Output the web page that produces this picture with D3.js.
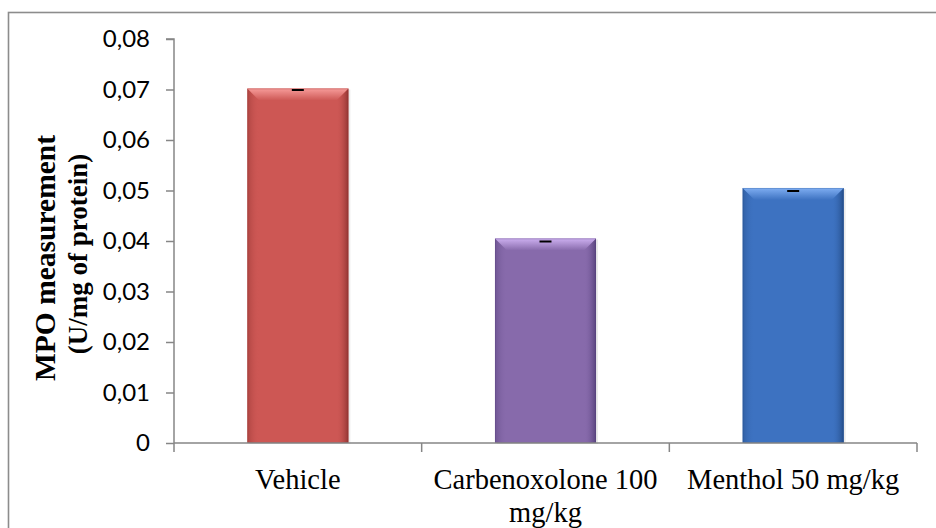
<!DOCTYPE html>
<html>
<head>
<meta charset="utf-8">
<script src="https://cdn.jsdelivr.net/npm/d3@7"></script>
<style>
  html, body { margin: 0; padding: 0; background: #fff; }
  svg { display: block; }
</style>
</head>
<body>
<svg id="chart" width="936" height="528"></svg>
<script>
// ---- data ----
const categories = ["Vehicle", "Carbenoxolone 100 mg/kg", "Menthol 50 mg/kg"];
const categoryLines = [["Vehicle"], ["Carbenoxolone 100", "mg/kg"], ["Menthol 50 mg/kg"]];
const values = [0.0702, 0.0405, 0.0505];
const errors = [0.0003, 0.0006, 0.0006];
const yTicks = [0, 0.01, 0.02, 0.03, 0.04, 0.05, 0.06, 0.07, 0.08];
const yTickLabels = ["0", "0,01", "0,02", "0,03", "0,04", "0,05", "0,06", "0,07", "0,08"];
const yTitleLines = ["MPO measurement", "(U/mg of protein)"];
const barColors = [
  { main: "#CD5754", light: "#F79C9A", dark: "#8E3230" },
  { main: "#876AAB", light: "#CDB0F0", dark: "#55407A" },
  { main: "#3D72C1", light: "#7FAEF2", dark: "#244C86" }
];

// ---- layout ----
const svg = d3.select("#chart");
const plotLeft = 174, plotRight = 917, plotTop = 39, plotBottom = 443;

svg.append("rect")
  .attr("x", 8.5).attr("y", 12.5).attr("width", 940).attr("height", 600)
  .attr("fill", "none").attr("stroke", "#8c8c8c").attr("stroke-width", 1.6);

const x = d3.scaleBand().domain(categories).range([plotLeft, plotRight])
  .paddingInner(0.592).paddingOuter(0.296);
const y = d3.scaleLinear().domain([0, 0.08]).range([plotBottom, plotTop]);

const defs = svg.append("defs");
barColors.forEach((c, i) => {
  const gTop = defs.append("linearGradient").attr("id", "gt" + i)
    .attr("x1", 0).attr("y1", 0).attr("x2", 0).attr("y2", 1);
  gTop.append("stop").attr("offset", 0).attr("stop-color", c.light);
  gTop.append("stop").attr("offset", 1).attr("stop-color", c.main);
  const gL = defs.append("linearGradient").attr("id", "gl" + i)
    .attr("x1", 0).attr("y1", 0).attr("x2", 1).attr("y2", 0);
  gL.append("stop").attr("offset", 0).attr("stop-color", c.dark).attr("stop-opacity", 0.5);
  gL.append("stop").attr("offset", 1).attr("stop-color", c.main).attr("stop-opacity", 0);
  const gR = defs.append("linearGradient").attr("id", "gr" + i)
    .attr("x1", 0).attr("y1", 0).attr("x2", 1).attr("y2", 0);
  gR.append("stop").attr("offset", 0).attr("stop-color", c.main).attr("stop-opacity", 0);
  gR.append("stop").attr("offset", 1).attr("stop-color", c.dark).attr("stop-opacity", 0.95);
});

// ---- bars ----
const bev = 12;
const bars = svg.append("g").selectAll("g").data(values).join("g");
bars.each(function(v, i) {
  const g = d3.select(this);
  const x0 = x(categories[i]), w = x.bandwidth();
  const y0 = y(v), y1 = y(0);
  const c = barColors[i];
  g.append("rect").attr("x", x0 + 2).attr("y", y0 + 1).attr("width", w).attr("height", y1 - y0)
    .attr("fill", "#000").attr("opacity", 0.08);
  g.append("rect").attr("x", x0).attr("y", y0).attr("width", w).attr("height", y1 - y0)
    .attr("fill", c.main);
  g.append("path").attr("d", `M${x0},${y0} L${x0 + bev},${y0 + bev} L${x0 + bev},${y1} L${x0},${y1} Z`)
    .attr("fill", `url(#gl${i})`);
  g.append("path").attr("d", `M${x0 + w},${y0} L${x0 + w - bev},${y0 + bev} L${x0 + w - bev},${y1} L${x0 + w},${y1} Z`)
    .attr("fill", `url(#gr${i})`);
  g.append("path").attr("d", `M${x0},${y0} L${x0 + w},${y0} L${x0 + w - bev},${y0 + bev} L${x0 + bev},${y0 + bev} Z`)
    .attr("fill", `url(#gt${i})`);
  g.append("rect").attr("x", x0 + 0.5).attr("y", y0 + 0.5).attr("width", w - 1).attr("height", y1 - y0 - 1)
    .attr("fill", "none").attr("stroke", c.dark).attr("stroke-opacity", 0.25);
  const cx = x0 + w / 2;
  g.append("line").attr("x1", cx - 6).attr("x2", cx + 6)
    .attr("y1", y(v - errors[i])).attr("y2", y(v - errors[i]))
    .attr("stroke", "#000").attr("stroke-width", 2);
});

// ---- axes ----
const axisColor = "#868686";
const yAxis = svg.append("g").attr("transform", `translate(${plotLeft},0)`)
  .call(d3.axisLeft(y).tickValues(yTicks).tickSize(8).tickPadding(16)
    .tickFormat((d, i) => yTickLabels[i]));
yAxis.select(".domain").attr("stroke", axisColor).attr("stroke-width", 1.5).attr("d", `M-8,${plotTop}H0V${plotBottom}`);
yAxis.selectAll(".tick line").attr("stroke", axisColor).attr("stroke-width", 1.5);
yAxis.selectAll(".tick text").attr("font-family", "Lato, 'Open Sans', sans-serif")
  .attr("font-size", 24).attr("fill", "#000");

const xAxis = svg.append("g").attr("transform", `translate(0,${plotBottom})`)
  .call(d3.axisBottom(x).tickSize(0).tickFormat(""));
xAxis.select(".domain").attr("stroke", axisColor).attr("stroke-width", 1.5).attr("d", `M${plotLeft},0H${plotRight}`);
const step = x.step();
const boundaries = d3.range(categories.length + 1).map(k => plotLeft + k * step);
xAxis.selectAll(".bound").data(boundaries).join("line")
  .attr("x1", d => d).attr("x2", d => d).attr("y1", 0).attr("y2", 9)
  .attr("stroke", axisColor).attr("stroke-width", 1.5);

svg.append("g").selectAll("text").data(categories).join("text")
  .attr("text-anchor", "middle")
  .attr("font-family", "'Liberation Serif', 'Times New Roman', serif")
  .attr("font-size", 28.5).attr("fill", "#000")
  .attr("x", d => x(d) + x.bandwidth() / 2)
  .attr("y", 489)
  .each(function(d, i) {
    const t = d3.select(this);
    categoryLines[i].forEach((line, j) => {
      t.append("tspan").attr("x", x(d) + x.bandwidth() / 2).attr("dy", j === 0 ? 0 : 33).text(line);
    });
  });

svg.append("text").attr("transform", "translate(55,258) rotate(-90)")
  .attr("text-anchor", "middle").attr("font-family", "'Liberation Serif', 'Times New Roman', serif")
  .attr("font-weight", "bold").attr("font-size", 29.5).text(yTitleLines[0]);
svg.append("text").attr("transform", "translate(87,254) rotate(-90)")
  .attr("text-anchor", "middle").attr("font-family", "'Liberation Serif', 'Times New Roman', serif")
  .attr("font-weight", "bold").attr("font-size", 27).text(yTitleLines[1]);
</script>
</body>
</html>
